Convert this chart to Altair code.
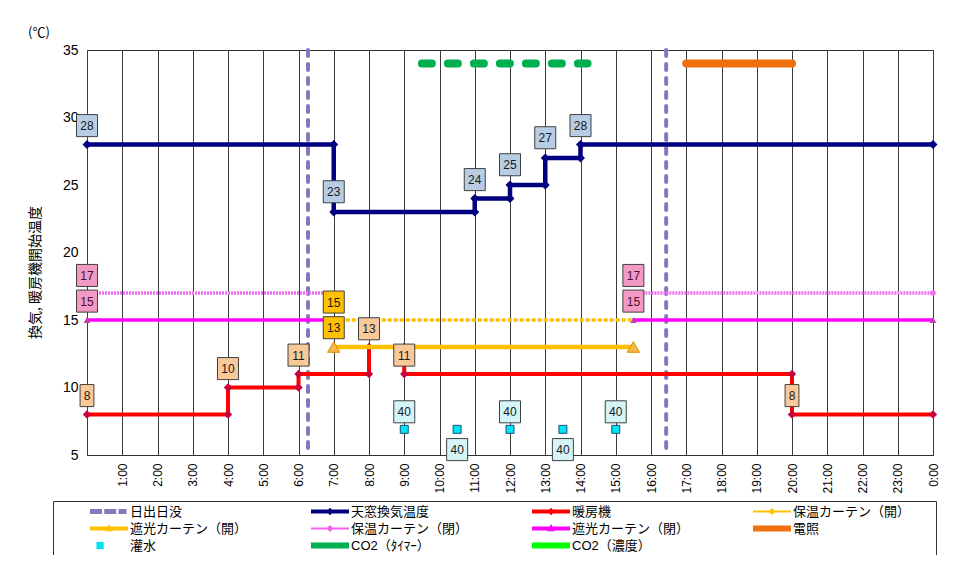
import altair as alt
import pandas as pd

JP = "Noto Sans CJK JP"
NUM = "Liberation Sans"
MIX = "Liberation Sans, Noto Sans CJK JP"

# ---------------- data (hour of day, temperature °C) ----------------
vent_t = [0, 7, 7, 11, 11, 12, 12, 13, 13, 14, 14, 24]
vent_v = [28, 28, 23, 23, 24, 24, 25, 25, 27, 27, 28, 28]

heat_t = [0, 4, 4, 6, 6, 8, 8, 9, 9, 20, 20, 24]
heat_v = [8, 8, 10, 10, 11, 11, 13, 13, 11, 11, 8, 8]

shade_open_t = [7, 15.5]
shade_open_v = [13, 13]

insul_open_t = [7, 15.5]
insul_open_v = [15, 15]

insul_close_t = [0, 7, 15.5, 24]
insul_close_v = [17, 17, 17, 17]
insul_close_seg = ["a", "a", "b", "b"]

shade_close_t = [0, 7, 15.5, 24]
shade_close_v = [15, 15, 15, 15]
shade_close_seg = ["a", "a", "b", "b"]

sun_t = [6.27, 16.43]

co2_timer_t = [9.5, 14.2]
co2_timer_v = [34, 34]

light_t = [17, 20]
light_v = [34, 34]

water_t = [9, 10.5, 12, 13.5, 15]
water_v = [6.9, 6.9, 6.9, 6.9, 6.9]

# value labels (hour, label position, text)
vent_lab_t = [0, 7, 11, 12, 13, 14]
vent_lab_y = [29.4, 24.5, 25.4, 26.5, 28.5, 29.4]
vent_lab = ["28", "23", "24", "25", "27", "28"]

heat_lab_t = [0, 4, 6, 8, 9, 20]
heat_lab_y = [9.4, 11.4, 12.4, 14.35, 12.4, 9.4]
heat_lab = ["8", "10", "11", "13", "11", "8"]

pink_lab_t = [0, 0, 15.5, 15.5]
pink_lab_y = [18.3, 16.4, 18.3, 16.4]
pink_lab = ["17", "15", "17", "15"]

gold_lab_t = [7, 7]
gold_lab_y = [16.33, 14.43]
gold_lab = ["15", "13"]

water_lab_t = [9, 10.5, 12, 13.5, 15]
water_lab_y = [8.2, 5.4, 8.2, 5.4, 8.2]
water_lab = ["40", "40", "40", "40", "40"]

legend_names = ["日出日没", "天窓換気温度", "暖房機", "保温カーテン（開）",
                "遮光カーテン（開）", "保温カーテン（閉）", "遮光カーテン（閉）", "電照",
                "灌水", "CO2（ﾀｲﾏｰ）", "CO2（濃度）"]
legend_colors = ["#8877BB", "#000080", "#FF0000", "#FFC000",
                 "#FFC000", "#F060F0", "#FF00FF", "#F07010",
                 "#00E5F5", "#00B050", "#00FF00"]

# legend symbol paths (unit box -1..1)
P_DASH = "M-1,-0.13H-0.37V0.13H-1Z M-0.25,-0.13H0.38V0.13H-0.25Z M0.5,-0.13H0.92V0.13H0.5Z"
P_DIAM = "M-1,-0.1H1V0.1H-1Z M0,-0.2L0.2,0L0,0.2L-0.2,0Z"
P_DIAM_THIN = "M-1,-0.05H1V0.05H-1Z M0,-0.18L0.18,0L0,0.18L-0.18,0Z"
P_TRI = "M-1,-0.1H1V0.1H-1Z M0,-0.24L0.21,0.14L-0.21,0.14Z"
P_THICK = "M-1,-0.16H1V0.16H-1Z"
P_SQ = "M-0.66,-0.19H-0.28V0.19H-0.66Z"
legend_shapes = [P_DASH, P_DIAM, P_DIAM, P_DIAM_THIN,
                 P_TRI, P_DIAM_THIN, P_TRI, P_THICK,
                 P_SQ, P_THICK, P_THICK]

BOX_WIDE = "M-1,-1.05H1V1.05H-1Z"
BOX_NARROW = "M-0.66,-1.05H0.66V1.05H-0.66Z"

# ---------------- encodings ----------------
XS = alt.Scale(domain=[0, 24], nice=False, zero=False)
YS = alt.Scale(domain=[5, 35], nice=False, zero=False)


def X():
    return alt.X("t:Q", scale=XS, axis=alt.Axis(
        values=list(range(25)), grid=True, gridColor="#3a3a3a", gridOpacity=1, gridWidth=1,
        ticks=False, domainColor="#333", labelAngle=270, labelFont=NUM, labelFontSize=12,
        labelColor="black", labelPadding=8, title=None,
        labelExpr="datum.value == 0 ? '' : (datum.value % 24) + ':00'"))


def Y():
    return alt.Y("v:Q", scale=YS, axis=alt.Axis(
        values=[5, 10, 15, 20, 25, 30, 35], grid=False, ticks=False, domain=False,
        labelFont=NUM, labelFontSize=14, labelColor="black", labelPadding=9,
        title="換気, 暖房機開始温度", titleFont=JP, titleFontSize=14, titleFontWeight="normal",
        titleColor="black", titleAngle=270, titleX=-52, titleY=222,
        titleAlign="center", titleBaseline="middle"))


def df(t, v, seg=None):
    d = pd.DataFrame({"t": t, "v": v})
    d["seg"] = seg if seg is not None else "a"
    return d


def line(d, color, width, dash=None, cap="butt"):
    kw = dict(color=color, strokeWidth=width, strokeCap=cap, opacity=1)
    if dash:
        kw["strokeDash"] = dash
    return alt.Chart(d).mark_line(**kw).encode(x=X(), y=Y(), detail="seg:N")


def pts(d, shape, fill, size, stroke=None):
    kw = dict(shape=shape, filled=True, color=fill, size=size, opacity=1)
    if stroke:
        kw.update(stroke=stroke, strokeWidth=1)
    return alt.Chart(d).mark_point(**kw).encode(x=X(), y=Y())


def boxes(t, y, txt, fill, tcolor="#1a1a1a"):
    d = pd.DataFrame({"t": t, "v": y, "txt": txt})
    base = alt.Chart(d).encode(x=X(), y=Y())
    b = base.mark_point(filled=True, color=fill, stroke="#404040", strokeWidth=1,
                        size=441, opacity=1).encode(
        shape=alt.condition("length(datum.txt) < 2", alt.value(BOX_NARROW), alt.value(BOX_WIDE)))
    tx = base.mark_text(font=NUM, fontSize=12, color=tcolor, baseline="middle", dy=0.5).encode(text="txt:N")
    return [b, tx]


sun = alt.Chart(pd.DataFrame({"t": sun_t})).mark_rule(
    color="#8877BB", strokeWidth=4, strokeDash=[6, 8], strokeCap="round").encode(x=X())

layers = [sun]
layers.append(line(df(insul_close_t, insul_close_v, insul_close_seg), "#F070F0", 3.5, [2, 1]))
layers.append(pts(df([24], [17]), "circle", "#F070F0", 30))
layers.append(line(df(shade_close_t, shade_close_v, shade_close_seg), "#FF00FF", 3.5))
layers.append(pts(df([0, 15.5, 24], [15, 15, 15]), "triangle-up", "#C040B0", 45))
layers.append(line(df(insul_open_t, insul_open_v), "#FFC000", 3.5, [4, 2]))
layers.append(line(df(heat_t, heat_v), "#FF0000", 4))
layers.append(pts(df(heat_t, heat_v), "diamond", "#C8003C", 70))
layers.append(line(df(shade_open_t, shade_open_v), "#FFC000", 4.5))
layers.append(pts(df(shade_open_t, shade_open_v), "triangle-up", "#F8B848", 150, stroke="#D89000"))
layers.append(line(df(vent_t, vent_v), "#000080", 4.5))
layers.append(pts(df(vent_t, vent_v), "diamond", "#000080", 80))
layers.append(line(df(co2_timer_t, co2_timer_v), "#00B050", 8, [10, 16], cap="round"))
layers.append(line(df(light_t, light_v), "#F07010", 8, cap="round"))
layers.append(pts(df(water_t, water_v), "square", "#00E5F5", 64, stroke="#1F4E79"))

layers += boxes(vent_lab_t, vent_lab_y, vent_lab, "#B8CCE4")
layers += boxes(heat_lab_t, heat_lab_y, heat_lab, "#FAC99A")
layers += boxes(pink_lab_t, pink_lab_y, pink_lab, "#F29AC4", "#4a1030")
layers += boxes(gold_lab_t, gold_lab_y, gold_lab, "#FFC000")
layers += boxes(water_lab_t, water_lab_y, water_lab, "#D4F4F8")

leg = alt.Legend(title=" ", titleOrient="right", titlePadding=24, titleFontSize=13,
                 orient="none", legendX=-34, legendY=451, columns=4, direction="horizontal",
                 columnPadding=28, rowPadding=0, clipHeight=17, symbolSize=1444,
                 symbolOffset=35, labelOffset=2, labelFont=MIX, labelFontSize=13,
                 labelColor="black", labelLimit=300, symbolStrokeWidth=0,
                 strokeColor="#333", padding=2, fillColor="white", symbolOpacity=1,
                 labelBaseline="middle")
legend_layer = alt.Chart(pd.DataFrame({"series": legend_names})).mark_point(
    filled=True, opacity=0, size=1444).encode(
    color=alt.Color("series:N", scale=alt.Scale(domain=legend_names, range=legend_colors), legend=leg),
    shape=alt.Shape("series:N", scale=alt.Scale(domain=legend_names, range=legend_shapes), legend=leg),
)
layers.append(legend_layer)

chart = alt.layer(*layers).properties(
    width=846, height=405,
    padding={"left": 79, "top": 42, "right": 28, "bottom": 100},
    autosize=alt.AutoSizeParams(type="none"),
    title=alt.Title("(℃)", anchor="start", frame="group", dx=-59, offset=3, fontSize=13,
                    font=JP, fontWeight="normal", color="black"),
).configure_view(stroke="#333", strokeWidth=1)

chart.save("out.html", embed_options={"renderer": "svg", "actions": False})
